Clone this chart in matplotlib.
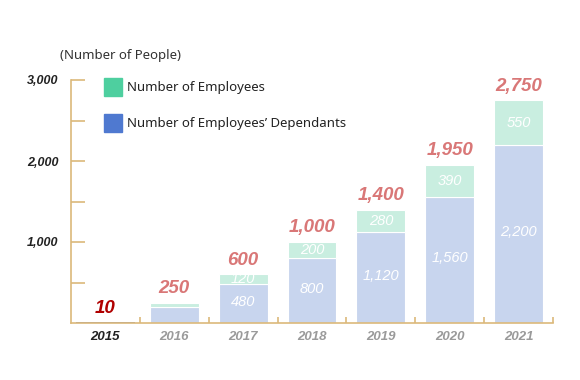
import matplotlib.pyplot as plt
from matplotlib.patches import Rectangle

# -----------------------------
# DATA
# -----------------------------
years = ["2015", "2016", "2017", "2018", "2019", "2020", "2021"]
dependants = [10, 200, 480, 800, 1120, 1560, 2200]
employees = [0, 50, 120, 200, 280, 390, 550]
totals = [10, 250, 600, 1000, 1400, 1950, 2750]
show_inner = [False, False, True, True, True, True, True]
y_ticks = [1000, 2000, 3000]
y_tick_labels = ["1,000", "2,000", "3,000"]

# -----------------------------
# COLOURS
# -----------------------------
axis_col = "#dcb97a"
blue_bar = "#c8d5ee"
green_bar = "#c9eee0"
total_col = "#d97777"
legend_green = "#4ecf9f"
legend_blue = "#4f79d0"

plt.rcParams["font.family"] = ["Noto Sans", "DejaVu Sans"]
num_font = ["Liberation Sans", "DejaVu Sans"]

fig = plt.figure(figsize=(5.8, 3.8), dpi=100)
ax = fig.add_axes([71 / 580, 1 - 323 / 380, 482 / 580, 243 / 380])

x = list(range(len(years)))
w = 0.71
for i in x:
    if i == 0:
        ax.bar(i, dependants[i], width=0.85, color="#7d8fb8", zorder=2)
        continue
    ax.bar(i, dependants[i], width=w, color=blue_bar, edgecolor="white", linewidth=0.8, zorder=2)
    ax.bar(i, employees[i], width=w, bottom=dependants[i], color=green_bar,
           edgecolor="white", linewidth=0.8, zorder=2)
    if show_inner[i]:
        ax.text(i, dependants[i] / 2 + 20, f"{dependants[i]:,}", ha="center", va="center",
                color="white", fontsize=10.5, style="italic", family=num_font)
        ax.text(i, dependants[i] + employees[i] / 2, f"{employees[i]:,}", ha="center", va="center",
                color="white", fontsize=10.5, style="italic", family=num_font)

for i in x:
    col = "#b00000" if i == 0 else total_col
    ax.annotate(f"{totals[i]:,}", (i, totals[i]), xytext=(0, 4), textcoords="offset points",
                ha="center", va="bottom", color=col, fontsize=13.5, fontweight="bold",
                style="italic", family=num_font, annotation_clip=False)

ax.set_xlim(-0.5, len(years) - 0.5)
ax.set_ylim(0, 3000)

for s in ["top", "right"]:
    ax.spines[s].set_visible(False)
for s in ["left", "bottom"]:
    ax.spines[s].set_color(axis_col)
    ax.spines[s].set_linewidth(1.2)

ax.set_yticks(y_ticks)
ax.set_yticklabels(y_tick_labels, fontsize=9, fontweight="bold", style="italic",
                   color="#222222", family=num_font)
ax.set_yticks([500, 1500, 2500], minor=True)
ax.tick_params(axis="y", which="both", direction="in", length=10, width=1.2, color=axis_col, pad=9)

ax.set_xticks([i + 0.5 for i in x], minor=True)
ax.set_xticks(x)
ax.set_xticklabels(years, fontsize=9.5, fontweight="bold", style="italic", color="#9a9a9a",
                   family=num_font)
ax.get_xticklabels()[0].set_color("#222222")
ax.tick_params(axis="x", which="major", length=0, pad=6)
ax.tick_params(axis="x", which="minor", direction="in", length=4, width=1.2, color=axis_col)

# legend drawn by hand in figure pixels
fig.text(60 / 580, 1 - 56 / 380, "(Number of People)", fontsize=9.5, color="#333333", va="center")
fig.patches.append(Rectangle((104 / 580, 1 - 96 / 380), 18 / 580, 18 / 380,
                             transform=fig.transFigure, color=legend_green))
fig.patches.append(Rectangle((104 / 580, 1 - 132 / 380), 18 / 580, 18 / 380,
                             transform=fig.transFigure, color=legend_blue))
fig.text(127 / 580, 1 - 87 / 380, "Number of Employees", fontsize=9.5, color="#222222", va="center")
fig.text(127 / 580, 1 - 123 / 380, "Number of Employees’ Dependants", fontsize=9.5,
         color="#222222", va="center")

fig.savefig("out.png", dpi=100)
